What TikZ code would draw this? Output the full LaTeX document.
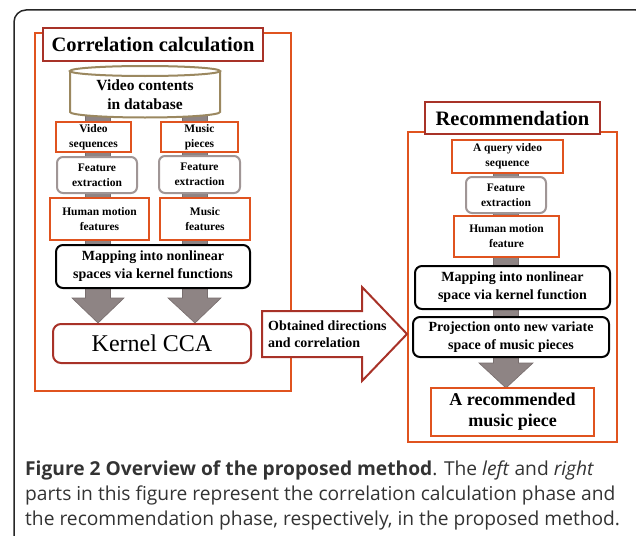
\documentclass[tikz,border=0pt]{standalone}
\usepackage{fontspec}
\setmainfont{Liberation Serif}
\newfontfamily\capfont{Open Sans}
\definecolor{orng}{RGB}{224,83,31}
\definecolor{dred}{RGB}{168,50,40}
\definecolor{tan}{RGB}{155,136,96}
\definecolor{fegray}{RGB}{160,150,150}
\definecolor{bargray}{RGB}{142,132,132}
\definecolor{bardark}{RGB}{120,110,110}
\newcommand{\fsz}[2]{\fontsize{#1}{#2}\selectfont}
\begin{document}
\begin{tikzpicture}[x=1pt,y=-1pt,
  every node/.style={inner sep=0pt, align=center},
  frame/.style={draw=orng, line width=2pt, fill=white},
  obox/.style={draw=orng, line width=2.2pt, fill=white, font=\bfseries\fsz{11.5}{15}},
  gbox/.style={draw=fegray, line width=2pt, fill=white, rounded corners=6pt, font=\bfseries\fsz{11.5}{15}},
  kbox/.style={draw=black, line width=2pt, fill=white, rounded corners=7pt, font=\bfseries\fsz{14}{18}},
  tbox/.style={draw=dred, line width=2pt, fill=white, font=\bfseries\fsz{20.5}{24}},
  bar/.style={fill=bargray, draw=bardark, line width=0.6pt},
  bigarrow/.style={draw=dred, line width=2pt, fill=white, line join=miter}
]
\useasboundingbox (0,0) rectangle (636,535);
% outer frame
\draw[line width=1.5pt, black!85, rounded corners=12pt] (14,600) -- (14,10) -- (648,10) -- (648,600);

% frames
\draw[frame] (35,33) rectangle (291,391);
\draw[frame] (408,132) rectangle (617,442);

% gray bars / arrows
\coordinate (tipA) at (98,323);
\coordinate (tipB) at (195,323);
\coordinate (tipC) at (506,388);
\draw[bar] (85.5,112) -- (85.5,298) -- (72,298) -- (tipA) -- (124,298) -- (110.5,298) -- (110.5,112) -- cycle;
\draw[bar] (182.5,112) -- (182.5,298) -- (168,298) -- (tipB) -- (221,298) -- (207.5,298) -- (207.5,112) -- cycle;
\draw[bar] (493.5,160) -- (493.5,363) -- (479,363) -- (tipC) -- (533,363) -- (518.5,363) -- (518.5,160) -- cycle;

% cylinder
\draw[draw=tan, line width=2pt, fill=white] (70,71) -- (70,112) arc[start angle=180, end angle=360, x radius=75, y radius=-5.5] -- (220,71);
\draw[draw=tan, line width=2pt, fill=white] (145,71) ellipse[x radius=75, y radius=5];
\node[font=\bfseries\fsz{15.5}{19}] (db) at (145,95) {Video contents\\in database};

% left column boxes
\node[tbox, minimum width=220, minimum height=33] (corr) at (153,44.5) {Correlation calculation};
\node[obox, minimum width=75, minimum height=30] (vseq) at (93.5,137) {Video\\sequences};
\node[obox, minimum width=77, minimum height=30] (mpie) at (199.5,137) {Music\\pieces};
\node[gbox, minimum width=80, minimum height=36] (fe1) at (97,175) {Feature\\extraction};
\node[gbox, minimum width=81, minimum height=37] (fe2) at (199.5,174.5) {Feature\\extraction};
\node[obox, minimum width=99, minimum height=42] (hmf) at (99.5,219) {Human motion\\features};
\node[obox, minimum width=90, minimum height=42] (mf) at (205,219) {Music\\features};
\node[kbox, minimum width=194, minimum height=43] (map1) at (153,266.5) {Mapping into nonlinear\\spaces via kernel functions};
\node[draw=dred, line width=2pt, fill=white, rounded corners=8pt, minimum width=198, minimum height=39, font=\fsz{24}{28}] (kcca) at (152,343.5) {Kernel CCA};

% big arrow
\draw[bigarrow] (262,311) -- (362,311) -- (362,287) -- (407,334) -- (362,381) -- (362,357) -- (262,357) -- cycle;
\node[anchor=west, align=left, font=\bfseries\fsz{14}{17}] (obt) at (268,334) {Obtained directions\\and correlation};

% right column
\node[tbox, minimum width=175, minimum height=32] (rect) at (512.5,118) {Recommendation};
\node[obox, minimum width=111, minimum height=33] (query) at (507.5,156.5) {A query video\\sequence};
\node[gbox, minimum width=80, minimum height=36] (fe3) at (506,195) {Feature\\extraction};
\node[obox, minimum width=105, minimum height=41] (hmf2) at (506.5,236.5) {Human motion\\feature};
\node[kbox, minimum width=195, minimum height=43] (map2) at (512.5,287.5) {Mapping into nonlinear\\space via kernel function};
\node[kbox, minimum width=196, minimum height=40] (proj) at (511,337) {Projection onto new variate\\space of music pieces};
\node[obox, minimum width=163, minimum height=48, font=\bfseries\fsz{18}{21}] (rec) at (512.5,412) {A recommended\\music piece};

% caption
\node[anchor=base west, align=left, font=\capfont\fsz{19.2}{25}, text=black!80] (cap) at (25,525)
  {\textbf{Figure 2 Overview of the proposed method}. The \textit{left} and \textit{right}\\
   parts in this figure represent the correlation calculation phase and\\
   the recommendation phase, respectively, in the proposed method.};
\end{tikzpicture}
\end{document}
